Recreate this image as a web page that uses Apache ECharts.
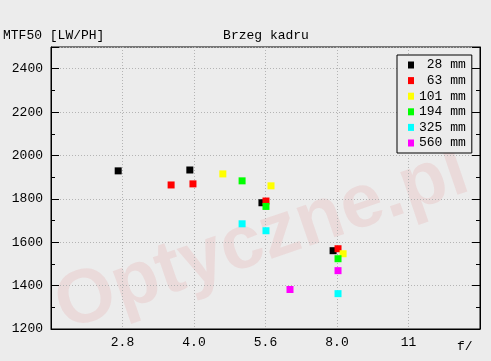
<!DOCTYPE html>
<html>
<head>
<meta charset="utf-8">
<script src="https://cdn.jsdelivr.net/npm/echarts@6/dist/echarts.min.js"></script>
<style>
html,body{margin:0;padding:0;background:#ececec;}
#c{width:491px;height:361px;}
</style>
</head>
<body>
<div id="c"></div>
<script>
// ---- data ----
var seriesNames = ['28 mm', '63 mm', '101 mm', '194 mm', '325 mm', '560 mm'];
var seriesColors = ['#000000', '#ff0000', '#ffff00', '#00ff00', '#00ffff', '#ff00ff'];
var f28 = [2.77, 3.92, 5.56, 7.85];
var mtf28 = [1929, 1933, 1782, 1561];
var f63 = [3.58, 3.98, 5.67, 8.04];
var mtf63 = [1864, 1869, 1790, 1570];
var f101 = [4.60, 5.81, 8.24];
var mtf101 = [1915, 1860, 1547];
var f194 = [5.05, 5.67, 8.04];
var mtf194 = [1883, 1765, 1524];
var f325 = [5.05, 5.67, 8.04];
var mtf325 = [1685, 1653, 1363];
var f560 = [6.37, 8.04];
var mtf560 = [1382, 1469];
var xTickLabels = ['2.0', '2.8', '4.0', '5.6', '8.0', '11', '16'];
var yTickValues = [1200, 1400, 1600, 1800, 2000, 2200, 2400];

var fSets = [f28, f63, f101, f194, f325, f560];
var mSets = [mtf28, mtf63, mtf101, mtf194, mtf325, mtf560];

// f-number -> stop index (f/2 = 0, one stop = 1)
function stop(f) { return 2 * Math.log2(f / 2); }

var FONT = 'Liberation Mono';
var chart = echarts.init(document.getElementById('c'), null, {renderer: 'canvas'});

var series = seriesNames.map(function (name, i) {
  return {
    name: name,
    type: 'scatter',
    symbol: 'rect',
    symbolSize: 7,
    itemStyle: {color: seriesColors[i], opacity: 1},
    emphasis: {disabled: true},
    data: fSets[i].map(function (f, j) { return [stop(f), mSets[i][j]]; }),
    z: 3
  };
});

function yAxisCfg(pos, showLabels, showSplit) {
  return {
    type: 'value',
    position: pos,
    min: 1200,
    max: 2500,
    interval: 200,
    axisLine: {show: true, lineStyle: {color: '#000', width: 1}},
    axisTick: {show: true, inside: true, length: 8, lineStyle: {color: '#000'}},
    minorTick: {show: true, splitNumber: 2, length: 4, lineStyle: {color: '#000'}},
    splitLine: {show: showSplit, lineStyle: {color: '#b4b4b4', type: [1, 2], width: 1}},
    axisLabel: {
      show: showLabels, showMaxLabel: false, margin: 8,
      color: '#000', fontFamily: FONT, fontSize: 13,
      formatter: function (v) { return yTickValues.indexOf(v) >= 0 ? String(v) : ''; }
    }
  };
}

var option = {
  backgroundColor: '#ececec',
  animation: false,
  grid: {
    left: 51, right: 11, top: 47, bottom: 32,
    show: true, borderColor: '#000', borderWidth: 1, backgroundColor: 'transparent'
  },
  legend: {
    orient: 'vertical',
    left: 397, top: 55,
    padding: [3, 6, 3, 11],
    itemWidth: 6, itemHeight: 7,
    itemGap: 1.6,
    icon: 'rect',
    backgroundColor: '#ececec',
    borderColor: '#000', borderWidth: 1, borderRadius: 0,
    selectedMode: false,
    textStyle: {fontFamily: FONT, fontSize: 13, color: '#000', lineHeight: 14},
    formatter: function (n) { return n.length < 6 ? ' ' + n : n; },
    data: seriesNames,
    z: 10
  },
  xAxis: {
    type: 'value',
    min: 0, max: 6, interval: 1,
    axisLine: {show: true, lineStyle: {color: '#000'}},
    axisTick: {show: false},
    splitLine: {show: true, lineStyle: {color: '#b4b4b4', type: [1, 2], width: 1}},
    axisLabel: {
      margin: 7, color: '#000', fontFamily: FONT, fontSize: 13,
      showMinLabel: false, showMaxLabel: false,
      formatter: function (v) { return (v > 0 && v < 6) ? xTickLabels[v] : ''; }
    }
  },
  yAxis: [yAxisCfg('left', true, true), yAxisCfg('right', false, false)],
  graphic: [
    {
      type: 'text', x: 262, y: 240, rotation: 19 * Math.PI / 180, z: -10, silent: true,
      style: {
        text: 'Optyczne.pl', align: 'center', verticalAlign: 'middle',
        font: 'bold 76px "Liberation Sans"',
        fill: 'rgba(225,35,35,0.085)',
        shadowBlur: 6, shadowColor: 'rgba(160,60,60,0.10)'
      }
    },
    {type: 'text', x: 3, y: 36, silent: true,
     style: {text: 'MTF50 [LW/PH]', fontFamily: FONT, fontSize: 13, fill: '#000', verticalAlign: 'middle'}},
    {type: 'text', x: 266, y: 36, silent: true,
     style: {text: 'Brzeg kadru', fontFamily: FONT, fontSize: 13, fill: '#000', align: 'center', verticalAlign: 'middle'}},
    {type: 'text', x: 457, y: 347, silent: true,
     style: {text: 'f/', fontFamily: FONT, fontSize: 13, fill: '#000', verticalAlign: 'middle'}}
  ],
  series: series
};
chart.setOption(option);
</script>
</body>
</html>
